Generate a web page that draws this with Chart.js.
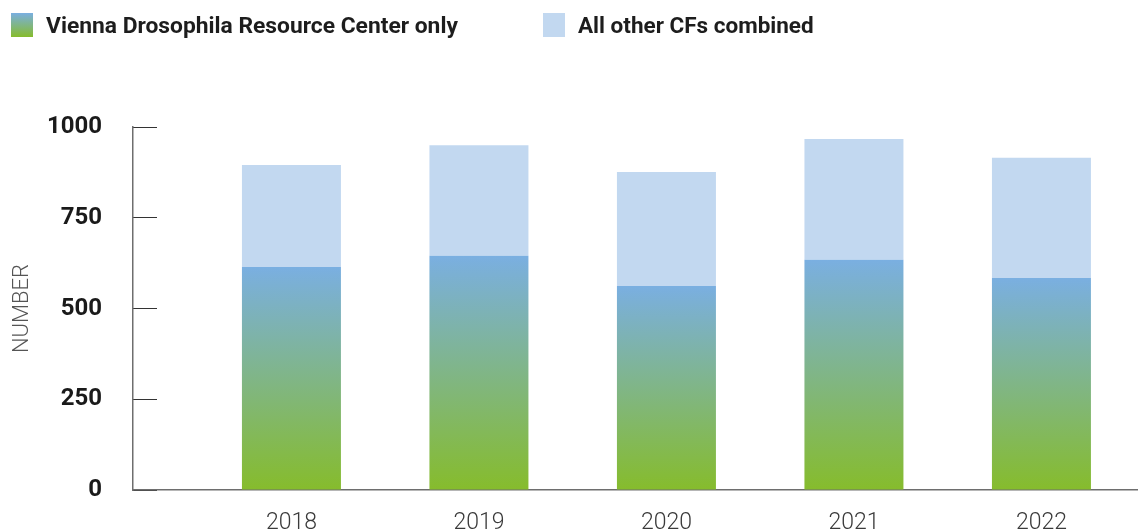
<!DOCTYPE html>
<html>
<head>
<meta charset="utf-8">
<script src="https://cdn.jsdelivr.net/npm/chart.js@4.4.1/dist/chart.umd.min.js"></script>
<style>
  html, body { margin: 0; padding: 0; background: #fff; }
  #wrap { position: relative; width: 1138px; height: 529px; overflow: hidden; }
  #legend { position: absolute; top: 0; left: 0; width: 1138px; height: 50px; font-family: Roboto, sans-serif; font-weight: 700; color: #1d1d1d; }
  .item { position: absolute; top: 13px; height: 24px; display: flex; align-items: center; }
  .sw { width: 22px; height: 24px; margin-right: 13px; }
  canvas { display: block; }
</style>
</head>
<body>
<div id="wrap">
  <canvas id="myChart" width="1138" height="529"></canvas>
  <div id="legend">
    <div class="item" style="left:11px;font-size:22.8px"><span class="sw" style="background:linear-gradient(#7aafe1,#86bc2c)"></span><span>Vienna Drosophila Resource Center only</span></div>
    <div class="item" style="left:543px;font-size:22.5px"><span class="sw" style="background:#c2d8f0"></span><span>All other CFs combined</span></div>
  </div>
</div>
<script>
var years = [2018, 2019, 2020, 2021, 2022];
var viennaOnly = [614, 645, 562, 634, 584];
var otherCFs = [281, 305, 314, 333, 331];
var yTicks = [0, 250, 500, 750, 1000];

function points(values) {
    var out = [];
    for (var i = 0; i < years.length; i++) {
        out.push({x: years[i], y: values[i]});
    }
    return out;
}

// blue at the top of each bar fading to green at the baseline
function viennaGradient(context) {
    var chart = context.chart;
    if (!chart.chartArea || !context.raw) return '#7aafe1';
    var y = chart.scales.y;
    var g = chart.ctx.createLinearGradient(0, y.getPixelForValue(context.raw.y), 0, y.getPixelForValue(0));
    g.addColorStop(0, '#7aafe1');
    g.addColorStop(1, '#86bc2c');
    return g;
}

var ctx = document.getElementById('myChart').getContext('2d');
var chart = new Chart(ctx, {
    type: 'bar',
    data: {
        datasets: [{
            label: 'Vienna Drosophila Resource Center only',
            data: points(viennaOnly),
            backgroundColor: viennaGradient,
            barPercentage: 0.528,
            categoryPercentage: 1
        }, {
            label: 'All other CFs combined',
            data: points(otherCFs),
            backgroundColor: '#c2d8f0',
            barPercentage: 0.528,
            categoryPercentage: 1
        }]
    },
    options: {
        responsive: false,
        animation: false,
        layout: {padding: {top: 127, left: 0, right: 0, bottom: 0}},
        plugins: {legend: {display: false}, tooltip: {enabled: false}},
        scales: {
            x: {
                type: 'linear',
                stacked: true,
                offset: false,
                min: 2017.155,
                max: 2022.515,
                afterFit: function (s) { s.height = 39; },
                afterBuildTicks: function (s) {
                    s.ticks = years.map(function (v) { return {value: v}; });
                },
                grid: {display: false, drawTicks: false},
                border: {display: true, color: '#6e6e6e', width: 1.5},
                ticks: {
                    padding: 19,
                    color: '#3a3a3a',
                    font: {family: 'Roboto', weight: 300, size: 23},
                    callback: function (v) { return String(v); }
                }
            },
            y: {
                stacked: true,
                min: 0,
                max: 1000,
                afterFit: function (s) {
                    s.width = 133;
                    s.paddingTop = 14;
                    s.paddingBottom = 14;
                },
                afterBuildTicks: function (s) {
                    s.ticks = yTicks.map(function (v) { return {value: v}; });
                },
                grid: {drawOnChartArea: false, drawTicks: true, tickLength: -24, color: '#333', lineWidth: 1},
                border: {display: true, color: '#6e6e6e', width: 1.5},
                ticks: {
                    padding: 55,
                    color: '#1a1a1a',
                    font: {family: 'Roboto', weight: 'bold', size: 24},
                    callback: function (v) { return String(v); }
                },
                title: {
                    display: true,
                    text: 'NUMBER',
                    color: '#555',
                    padding: {top: 9, bottom: 0},
                    font: {family: 'Roboto', weight: 300, size: 22}
                }
            }
        }
    }
});
</script>
</body>
</html>
